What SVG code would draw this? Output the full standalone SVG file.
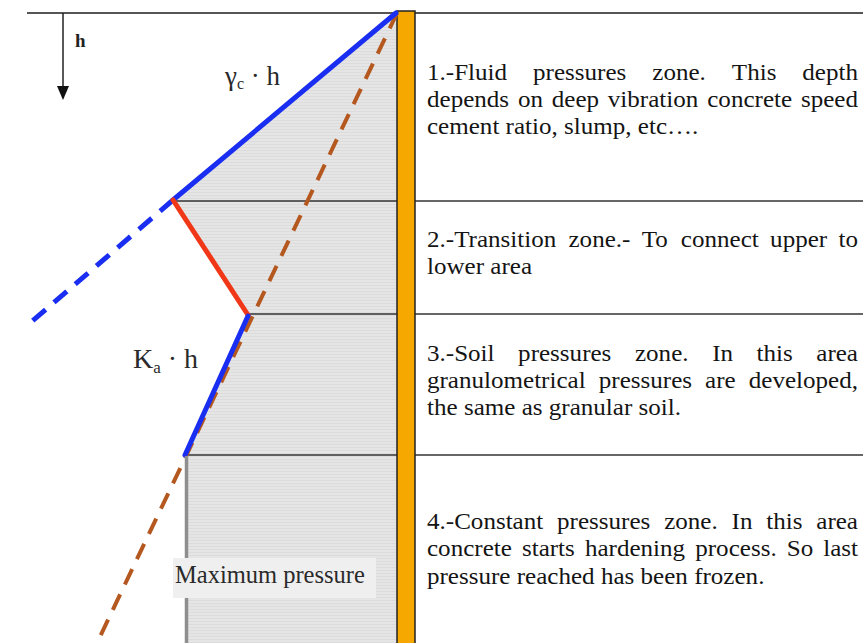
<svg xmlns="http://www.w3.org/2000/svg" width="863" height="643" viewBox="0 0 863 643">
<defs>
<pattern id="stripes" width="6" height="3" patternUnits="userSpaceOnUse">
<rect width="6" height="3" fill="#e5e5e5"/>
<rect width="6" height="1" fill="#dcdcdc"/>
</pattern>
<style>
.t{font-size:23px;fill:#141414}
.e{text-anchor:end}
.row{stroke:#333;stroke-width:1.5;fill:none}
.lab{fill:#2a2a2a}
</style>
</defs>
<rect width="863" height="643" fill="#ffffff"/>

<g id="pressure-area">
<polygon points="397,13 173,200 248,315 185,455 185,643 397,643" fill="url(#stripes)"/>
</g>

<g id="grid">
<line x1="27" y1="13" x2="863" y2="13" stroke="#555" stroke-width="2"/>
<line class="row" x1="173" y1="201" x2="863" y2="201"/>
<line class="row" x1="248" y1="314" x2="863" y2="314"/>
<line class="row" x1="185" y1="455" x2="863" y2="455"/>
</g>

<g id="formwork">
<rect x="397" y="11" width="18" height="640" fill="#f6a800" stroke="#222" stroke-width="1.5"/>
</g>

<g id="connectors">
<line x1="397" y1="13" x2="97" y2="643" stroke="#b5581f" stroke-width="4" stroke-dasharray="17,11"/>
<line x1="396" y1="13" x2="173" y2="200" stroke="#1a2ef2" stroke-width="5" stroke-linecap="round"/>
<line x1="173" y1="200" x2="30" y2="323" stroke="#1a2ef2" stroke-width="5" stroke-dasharray="17,11"/>
<line x1="173" y1="200" x2="248" y2="315" stroke="#f03818" stroke-width="5" stroke-linecap="round"/>
<line x1="248" y1="316" x2="185" y2="455" stroke="#1a2ef2" stroke-width="5" stroke-linecap="round"/>
<line x1="186.5" y1="456" x2="186.5" y2="643" stroke="#8e8e8e" stroke-width="3.5"/>
<line x1="63" y1="13" x2="63" y2="88" stroke="#222" stroke-width="1.5"/>
<polygon points="57,86 69,86 63,100" fill="#111"/>
</g>

<g font-family="Liberation Serif, Times New Roman, serif">
<g id="axis-label">
<text x="75" y="47" font-size="19" font-weight="bold" fill="#222">h</text>
</g>

<g id="fluid-label">
<text x="225" y="85" class="lab" font-size="27">γ<tspan font-size="16" dy="4">c</tspan><tspan dy="-4"> · h</tspan></text>
</g>

<g id="soil-label">
<text x="133" y="368" class="lab" font-size="28">K<tspan font-size="17" dy="5">a</tspan><tspan dy="-5"> · h</tspan></text>
</g>

<g id="max-pressure">
<rect x="173" y="558" width="203" height="40" fill="#efefef"/>
<text x="175" y="583" class="lab" font-size="24.5">Maximum pressure</text>
</g>

<g id="zone-texts" transform="matrix(1.09 0 0 1 -38.43 0)">
<g id="zone1">
<text class="t" y="80"><tspan x="427">1.-Fluid</tspan><tspan x="524.3">pressures</tspan><tspan x="633.7">zone.</tspan><tspan x="706.7">This</tspan></text>
<text class="t e" x="822.4" y="80">depth</text>
<text class="t" y="107"><tspan x="427">depends</tspan><tspan x="510.4">on</tspan><tspan x="541.5">deep</tspan><tspan x="592.9">vibration</tspan><tspan x="684.1">concrete</tspan></text>
<text class="t e" x="822.4" y="107">speed</text>
<text class="t" x="427" y="134">cement ratio, slump, etc….</text>
</g>

<g id="zone2">
<text class="t" y="247"><tspan x="427">2.-Transition</tspan><tspan x="556.8">zone.-</tspan><tspan x="624">To</tspan><tspan x="659.9">connect</tspan><tspan x="741.8">upper</tspan></text>
<text class="t e" x="822.4" y="247">to</text>
<text class="t" x="427" y="274">lower area</text>
</g>

<g id="zone3">
<text class="t" y="361"><tspan x="427">3.-Soil</tspan><tspan x="510.6">pressures</tspan><tspan x="617.8">zone.</tspan><tspan x="688.6">In</tspan><tspan x="729.4">this</tspan></text>
<text class="t e" x="822.4" y="361">area</text>
<text class="t" y="388"><tspan x="427">granulometrical</tspan><tspan x="584.6">pressures</tspan><tspan x="682.1">are</tspan></text>
<text class="t e" x="822.4" y="388">developed,</text>
<text class="t" x="427" y="415">the same as granular soil.</text>
</g>

<g id="zone4">
<text class="t" y="529"><tspan x="427">4.-Constant</tspan><tspan x="546.3">pressures</tspan><tspan x="644.6">zone.</tspan><tspan x="706.4">In</tspan><tspan x="738.2">this</tspan></text>
<text class="t e" x="822.4" y="529">area</text>
<text class="t" y="556"><tspan x="427">concrete</tspan><tspan x="514.1">starts</tspan><tspan x="571.9">hardening</tspan><tspan x="673.1">process.</tspan><tspan x="757">So</tspan></text>
<text class="t e" x="822.4" y="556">last</text>
<text class="t" x="427" y="584">pressure reached has been frozen.</text>
</g>
</g>
</g>
</svg>
